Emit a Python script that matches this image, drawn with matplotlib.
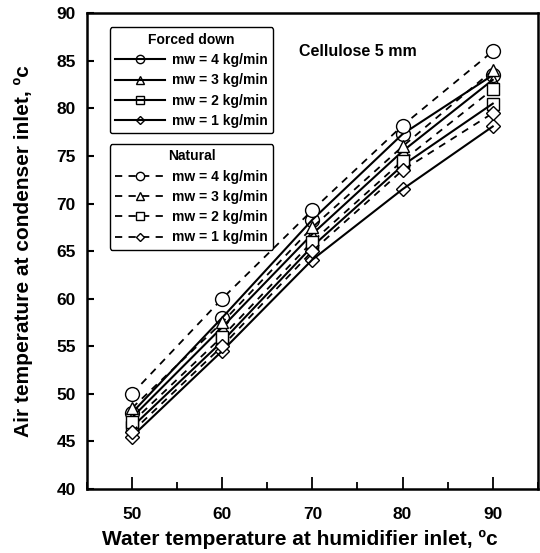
import matplotlib
matplotlib.use("Agg")
import matplotlib.pyplot as plt
from matplotlib.ticker import MultipleLocator

plt.rcParams['font.family'] = ['Liberation Sans', 'DejaVu Sans']
plt.rcParams['font.weight'] = 'bold'

x_water = [50, 60, 70, 80, 90]
mw_labels = ["mw = 4 kg/min", "mw = 3 kg/min", "mw = 2 kg/min", "mw = 1 kg/min"]

forced_4 = [48.0, 58.0, 68.3, 77.3, 83.5]
forced_3 = [47.5, 57.0, 66.8, 75.5, 83.0]
forced_2 = [46.5, 55.5, 65.5, 74.0, 80.5]
forced_1 = [45.5, 54.5, 64.1, 71.5, 78.1]

natural_4 = [50.0, 60.0, 69.3, 78.2, 86.0]
natural_3 = [48.5, 57.5, 67.5, 76.0, 84.0]
natural_2 = [47.0, 56.0, 66.0, 74.5, 82.0]
natural_1 = [46.0, 55.0, 65.0, 73.5, 79.5]

forced = [forced_4, forced_3, forced_2, forced_1]
natural = [natural_4, natural_3, natural_2, natural_1]
markers = ['o', '^', 's', 'D']
msizes = [10, 9, 9, 7]

fig = plt.figure(figsize=(5.4, 5.53), dpi=100)
ax = fig.add_axes([0.161, 0.116, 0.835, 0.860])

f_handles = []
for ys, m, ms, lab in zip(forced, markers, msizes, mw_labels):
    h, = ax.plot(x_water, ys, color='black', lw=1.5, marker=m, ms=ms,
                 mfc='none', mec='black', mew=1.0, label=lab)
    f_handles.append(h)

n_handles = []
for ys, m, ms, lab in zip(natural, markers, msizes, mw_labels):
    h, = ax.plot(x_water, ys, color='black', lw=1.3, ls=(0, (4, 3.5)), marker=m, ms=ms,
                 mfc='white', mec='black', mew=1.0, label=lab)
    n_handles.append(h)

ax.set_xlim(45, 95)
ax.set_ylim(40, 90)
ax.xaxis.set_major_locator(MultipleLocator(10))
ax.xaxis.set_minor_locator(MultipleLocator(5))
ax.yaxis.set_major_locator(MultipleLocator(5))
ax.tick_params(axis='x', which='major', direction='in', length=9, width=1.3, labelsize=12.5, pad=13)
ax.tick_params(axis='x', which='minor', direction='in', length=5, width=1.3)
ax.tick_params(axis='y', which='major', direction='in', length=5, width=1.5, labelsize=12.5, pad=8)
for lbl in ax.get_xticklabels() + ax.get_yticklabels():
    lbl.set_fontweight('bold')
for sp in ax.spines.values():
    sp.set_linewidth(1.8)

ax.set_xlabel("Water temperature at humidifier inlet, \u00bac", fontsize=15, fontweight='bold', labelpad=6)
ax.xaxis.label.set_x(0.472)
ax.set_ylabel("Air temperature at condenser inlet, \u00bac", fontsize=15, fontweight='bold', labelpad=17)

ax.text(0.47, 0.92, "Cellulose 5 mm", transform=ax.transAxes, fontsize=11.5, fontweight='bold',
        ha='left', va='center')

leg_kw = dict(fontsize=10, handlelength=3.6, handletextpad=0.5, labelspacing=0.45,
              borderpad=0.4, fancybox=True, edgecolor='black', framealpha=1,
              title_fontproperties={'weight': 'bold', 'size': 10}, markerscale=0.6)
leg1 = ax.legend(handles=f_handles, title="Forced down", loc='upper left',
                 bbox_to_anchor=(0.035, 0.985), **leg_kw)
leg1.get_frame().set_linewidth(1.0)
ax.add_artist(leg1)
leg2 = ax.legend(handles=n_handles, title="Natural", loc='upper left',
                 bbox_to_anchor=(0.035, 0.74), **leg_kw)
leg2.get_frame().set_linewidth(1.0)
for leg in (leg1, leg2):
    for t in leg.get_texts():
        t.set_fontweight('bold')

fig.savefig("out.png", dpi=100)
